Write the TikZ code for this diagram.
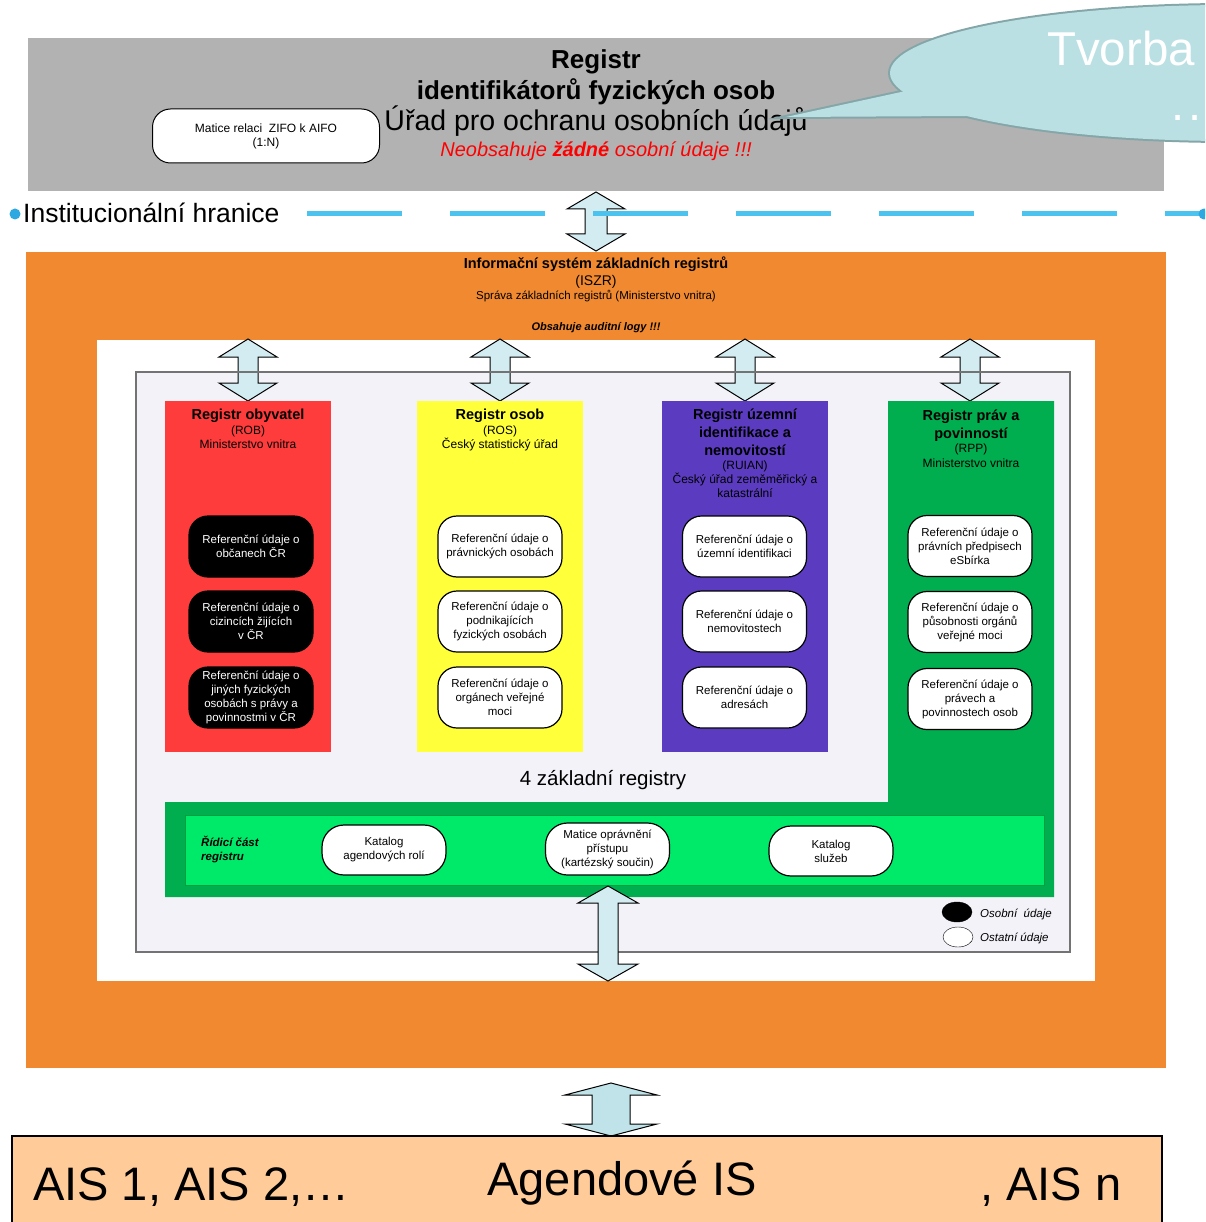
\documentclass[tikz,border=0pt]{standalone}
\usepackage{fontspec}
\setmainfont{Liberation Sans}
\usetikzlibrary{shapes.geometric}
\definecolor{grayreg}{HTML}{B2B2B2}
\definecolor{orng}{HTML}{F18930}
\definecolor{lav}{HTML}{F3F2F8}
\definecolor{redreg}{HTML}{FF3C3C}
\definecolor{yelreg}{HTML}{FFFF3A}
\definecolor{purreg}{HTML}{5B3CC0}
\definecolor{grnreg}{HTML}{00AD4F}
\definecolor{brgrn}{HTML}{00EA6A}
\definecolor{brgrnb}{HTML}{00A040}
\definecolor{callfill}{HTML}{BAE0E4}
\definecolor{callbord}{HTML}{85A6A8}
\definecolor{arrfill}{HTML}{D3ECF1}
\definecolor{arrfill2}{HTML}{BFE3E8}
\definecolor{aisfill}{HTML}{FFCC99}
\definecolor{dashblue}{HTML}{4CC2EE}
\definecolor{dotblue}{HTML}{2EA8E0}
\definecolor{txtred}{HTML}{FF0000}
\newcommand\fs[1]{\fontsize{#1}{#1}\selectfont}
\newcommand\dblarr[7]{%
\filldraw[arr, fill=#7] (#1,#2) -- ({#1+#4},{#2+#6}) -- ({#1+#5},{#2+#6}) -- ({#1+#5},{#3-#6}) -- ({#1+#4},{#3-#6}) -- (#1,#3) -- ({#1-#4},{#3-#6}) -- ({#1-#5},{#3-#6}) -- ({#1-#5},{#2+#6}) -- ({#1-#4},{#2+#6}) -- cycle;}
\tikzset{
 lbl/.style={inner sep=0pt, anchor=base},
 refbox/.style={rounded corners=19pt, draw=black, line width=1.2pt, minimum width=124pt, minimum height=61pt, align=center, inner sep=1pt, font=\fontsize{11.5}{14}\selectfont},
 pers/.style={refbox, fill=black, text=white},
 ost/.style={refbox, fill=white},
 ctrl/.style={refbox, minimum height=50pt, rounded corners=22pt, fill=white},
 arr/.style={draw=black, line width=1pt},
}
\begin{document}
\begin{tikzpicture}[x=1pt,y=-1pt]
\useasboundingbox (0,0) rectangle (1205,1222);
\clip (0,0) rectangle (1205,1222);
% gray register box
\fill[grayreg] (28,38) rectangle (1164,191);
\node[lbl, font=\fs{26}\bfseries] (t1) at (596,69) {Registr};
\node[lbl, font=\fs{26}\bfseries] (t2) at (596,100) {identifikátorů fyzických osob};
\node[lbl, font=\fs{28.5}] (t3) at (596,131) {Úřad pro ochranu osobních údajů};
\node[lbl, font=\fs{20}\itshape, text=txtred] (t4) at (596,157) {Neobsahuje \textbf{žádné} osobní údaje !!!};
\node[draw=black, line width=1pt, fill=white, rounded corners=18pt, minimum width=227pt, minimum height=54pt, align=center, font=\fontsize{12}{14}\selectfont] (zifo) at (266,136) {Matice relaci\ \ ZIFO k AIFO\\(1:N)};
% callout
\draw[line width=4pt, callbord] (1230,73) ellipse [x radius=340, y radius=68];
\draw[line width=4pt, callbord, line join=miter] (903,91.6) -- (786,117) -- (967,116) -- (950,90) -- cycle;
\fill[callfill] (1230,73) ellipse [x radius=340, y radius=68];
\fill[callfill] (903,91.6) -- (786,117) -- (967,116) -- (950,90) -- cycle;
\node[lbl, anchor=base west, font=\fs{47.5}, text=white] (tv) at (1047,66) {Tvorba};
\node[lbl, anchor=base west, font=\fs{47}, text=white] (dots) at (1171,121) {.\kern4pt.};
% institutional boundary
\dblarr{596}{192}{251}{29}{11}{17}{arrfill}
\node[lbl, anchor=base west, font=\fs{26.5}] (inst) at (23,223) {Institucionální hranice};
\fill[dotblue] (15,214) circle (5.5);
\coordinate (ls) at (307,214);
\coordinate (le) at (1210,214);
\draw[dashblue, line width=5pt, dash pattern=on 95pt off 48pt] (ls) -- (le);
\fill[dotblue] (1204,214) circle (5.5);
% orange ISZR
\fill[orng] (26,252) rectangle (1166,1068);
\node[lbl, font=\fs{14.5}\bfseries] (i1) at (596,269) {Informační systém základních registrů};
\node[lbl, font=\fs{14}] (i2) at (596,286) {(ISZR)};
\node[lbl, font=\fs{11.5}] (i3) at (596,300) {Správa základních registrů (Ministerstvo vnitra)};
\node[lbl, font=\fs{11}\bfseries\itshape] (i4) at (596,330) {Obsahuje auditní logy !!!};
\fill[white] (97,340) rectangle (1095,981);
\fill[lav] (136,372) rectangle (1070,952);
% arrows to registers
\dblarr{248}{339}{401}{29}{10}{18}{arrfill}
\dblarr{500}{339}{401}{29}{10}{18}{arrfill}
\dblarr{745}{339}{401}{29}{10}{18}{arrfill}
\dblarr{970}{339}{401}{29}{10}{18}{arrfill}
\draw[gray!90!black, line width=1.5pt] (136,372) rectangle (1070,952);
% registers
\fill[redreg] (165,401) rectangle (331,752);
\fill[yelreg] (417,401) rectangle (583,752);
\fill[purreg] (662,401) rectangle (828,752);
\fill[grnreg] (888,401) -- (1054,401) -- (1054,897) -- (165,897) -- (165,802) -- (888,802) -- cycle;
\draw[brgrnb, line width=1pt, fill=brgrn] (185,815) rectangle (1044,885);
% headers
\node[lbl, font=\fs{14.5}\bfseries] (rob1) at (248,419) {Registr obyvatel};
\node[lbl, font=\fs{12}] (rob2) at (248,434) {(ROB)};
\node[lbl, font=\fs{12}] (rob3) at (248,448) {Ministerstvo vnitra};
\node[lbl, font=\fs{14.5}\bfseries] (ros1) at (500,419) {Registr osob};
\node[lbl, font=\fs{12}] (ros2) at (500,434) {(ROS)};
\node[lbl, font=\fs{12}] (ros3) at (500,448) {Český statistický úřad};
\node[lbl, font=\fs{14.5}\bfseries] (ru1) at (745,419) {Registr územní};
\node[lbl, font=\fs{14.5}\bfseries] (ru2) at (745,437) {identifikace a};
\node[lbl, font=\fs{14.5}\bfseries] (ru3) at (745,455) {nemovitostí};
\node[lbl, font=\fs{12}] (ru4) at (745,469) {(RUIAN)};
\node[lbl, font=\fs{12}] (ru5) at (745,483) {Český úřad zeměměřický a};
\node[lbl, font=\fs{12}] (ru6) at (745,497) {katastrální};
\node[lbl, font=\fs{14.5}\bfseries] (rp1) at (971,420) {Registr práv a};
\node[lbl, font=\fs{14.5}\bfseries] (rp2) at (971,438) {povinností};
\node[lbl, font=\fs{12}] (rp3) at (971,452) {(RPP)};
\node[lbl, font=\fs{12}] (rp4) at (971,467) {Ministerstvo vnitra};
% reference boxes
\node[pers] (r1) at (251,546.5) {Referenční údaje o\\občanech ČR};
\node[pers] (r2) at (251,621.5) {Referenční údaje o\\cizincích žijících\\v ČR};
\node[pers] (r3) at (251,697.5) {Referenční údaje o\\jiných fyzických\\osobách s právy a\\povinnostmi v ČR};
\node[ost] (y1) at (500,546.5) {Referenční údaje o\\právnických osobách};
\node[ost] (y2) at (500,621.5) {Referenční údaje o\\podnikajících\\fyzických osobách};
\node[ost] (y3) at (500,697.5) {Referenční údaje o\\orgánech veřejné\\moci};
\node[ost] (p1) at (744.5,546.5) {Referenční údaje o\\územní identifikaci};
\node[ost] (p2) at (744.5,621.5) {Referenční údaje o\\nemovitostech};
\node[ost] (p3) at (744.5,697.5) {Referenční údaje o\\adresách};
\node[ost] (g1) at (970,546) {Referenční údaje o\\právních předpisech\\eSbírka};
\node[ost] (g2) at (970,622) {Referenční údaje o\\působnosti orgánů\\veřejné moci};
\node[ost] (g3) at (970,699) {Referenční údaje o\\právech a\\povinnostech osob};
\node[lbl, font=\fs{20.5}] (zr) at (603,785) {4 základní registry};
% control part
\node[lbl, anchor=base west, font=\fs{11.5}\bfseries\itshape] (rc1) at (201,846) {Řídicí část};
\node[lbl, anchor=base west, font=\fs{11.5}\bfseries\itshape] (rc2) at (201,860) {registru};
\node[ctrl] (k1) at (384,850) {Katalog\\agendových rolí};
\node[ctrl, minimum height=52pt] (k2) at (607.5,849) {Matice oprávnění\\přístupu\\(kartézský součin)};
\node[ctrl] (k3) at (831,851) {Katalog\\služeb};
% legend
\node[draw=black, fill=black, ellipse, minimum width=30pt, minimum height=20pt, inner sep=0pt] (lg1) at (957,912) {};
\node[draw=black, fill=white, ellipse, minimum width=30pt, minimum height=20pt, inner sep=0pt] (lg2) at (958,937) {};
\node[lbl, anchor=base west, font=\fs{11.5}\itshape] (lt1) at (980,917) {Osobní\ \ údaje};
\node[lbl, anchor=base west, font=\fs{11.5}\itshape] (lt2) at (980,941) {Ostatní údaje};
% bottom arrows
\dblarr{608}{886}{981}{30}{10}{17}{arrfill}
\dblarr{611}{1083}{1136}{46}{19}{12}{arrfill2}
% AIS
\draw[black, line width=2pt, fill=aisfill] (12,1136) rectangle (1162,1240);
\node[lbl, anchor=base west, font=\fs{47}] (a1) at (33,1200) {AIS 1, AIS 2,…};
\node[lbl, font=\fs{47}] (a2) at (622,1195) {Agendové IS};
\node[lbl, anchor=base west, font=\fs{47}] (a3) at (980,1200) {, AIS n};
\end{tikzpicture}
\end{document}
